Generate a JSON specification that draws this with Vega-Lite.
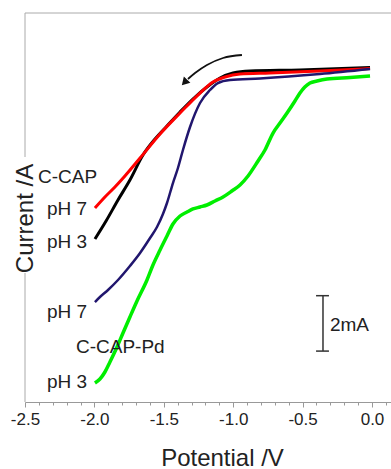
{
  "$schema": "https://vega.github.io/schema/vega-lite/v6.json",
  "width": 366,
  "height": 389,
  "autosize": "none",
  "padding": {"left": 25, "top": 13, "right": 0, "bottom": 67},
  "background": "white",
  "config": {
    "view": {"stroke": null},
    "font": "Liberation Sans",
    "axis": {"grid": false}
  },
  "resolve": {"axis": {"x": "independent", "y": "independent"}},
  "datasets": {
    "curves": [
      {"s": "C-CAP pH 3", "v": -1.996, "c": -6.173},
      {"s": "C-CAP pH 3", "v": -1.916, "c": -5.523},
      {"s": "C-CAP pH 3", "v": -1.830, "c": -4.765},
      {"s": "C-CAP pH 3", "v": -1.744, "c": -4.043},
      {"s": "C-CAP pH 3", "v": -1.650, "c": -3.141},
      {"s": "C-CAP pH 3", "v": -1.563, "c": -2.563},
      {"s": "C-CAP pH 3", "v": -1.477, "c": -2.094},
      {"s": "C-CAP pH 3", "v": -1.383, "c": -1.588},
      {"s": "C-CAP pH 3", "v": -1.290, "c": -1.119},
      {"s": "C-CAP pH 3", "v": -1.189, "c": -0.686},
      {"s": "C-CAP pH 3", "v": -1.095, "c": -0.361},
      {"s": "C-CAP pH 3", "v": -1.001, "c": -0.181},
      {"s": "C-CAP pH 3", "v": -0.879, "c": -0.108},
      {"s": "C-CAP pH 3", "v": -0.519, "c": -0.072},
      {"s": "C-CAP pH 3", "v": -0.014, "c": 0.018},
      {"s": "C-CAP pH 7", "v": -1.996, "c": -5.054},
      {"s": "C-CAP pH 7", "v": -1.924, "c": -4.657},
      {"s": "C-CAP pH 7", "v": -1.852, "c": -4.296},
      {"s": "C-CAP pH 7", "v": -1.780, "c": -3.899},
      {"s": "C-CAP pH 7", "v": -1.671, "c": -3.249},
      {"s": "C-CAP pH 7", "v": -1.527, "c": -2.383},
      {"s": "C-CAP pH 7", "v": -1.383, "c": -1.625},
      {"s": "C-CAP pH 7", "v": -1.239, "c": -0.903},
      {"s": "C-CAP pH 7", "v": -1.146, "c": -0.505},
      {"s": "C-CAP pH 7", "v": -1.059, "c": -0.325},
      {"s": "C-CAP pH 7", "v": -0.951, "c": -0.217},
      {"s": "C-CAP pH 7", "v": -0.735, "c": -0.181},
      {"s": "C-CAP pH 7", "v": -0.375, "c": -0.108},
      {"s": "C-CAP pH 7", "v": -0.014, "c": -0.018},
      {"s": "C-CAP-Pd pH 7", "v": -1.996, "c": -8.448},
      {"s": "C-CAP-Pd pH 7", "v": -1.960, "c": -8.267},
      {"s": "C-CAP-Pd pH 7", "v": -1.902, "c": -8.014},
      {"s": "C-CAP-Pd pH 7", "v": -1.830, "c": -7.653},
      {"s": "C-CAP-Pd pH 7", "v": -1.744, "c": -7.148},
      {"s": "C-CAP-Pd pH 7", "v": -1.671, "c": -6.679},
      {"s": "C-CAP-Pd pH 7", "v": -1.599, "c": -6.137},
      {"s": "C-CAP-Pd pH 7", "v": -1.549, "c": -5.740},
      {"s": "C-CAP-Pd pH 7", "v": -1.506, "c": -5.271},
      {"s": "C-CAP-Pd pH 7", "v": -1.477, "c": -4.874},
      {"s": "C-CAP-Pd pH 7", "v": -1.434, "c": -4.152},
      {"s": "C-CAP-Pd pH 7", "v": -1.398, "c": -3.610},
      {"s": "C-CAP-Pd pH 7", "v": -1.362, "c": -2.960},
      {"s": "C-CAP-Pd pH 7", "v": -1.311, "c": -2.130},
      {"s": "C-CAP-Pd pH 7", "v": -1.239, "c": -1.264},
      {"s": "C-CAP-Pd pH 7", "v": -1.167, "c": -0.794},
      {"s": "C-CAP-Pd pH 7", "v": -1.110, "c": -0.542},
      {"s": "C-CAP-Pd pH 7", "v": -1.023, "c": -0.433},
      {"s": "C-CAP-Pd pH 7", "v": -0.807, "c": -0.379},
      {"s": "C-CAP-Pd pH 7", "v": -0.375, "c": -0.217},
      {"s": "C-CAP-Pd pH 7", "v": -0.014, "c": -0.036},
      {"s": "C-CAP-Pd pH 3", "v": -1.996, "c": -11.372},
      {"s": "C-CAP-Pd pH 3", "v": -1.960, "c": -11.227},
      {"s": "C-CAP-Pd pH 3", "v": -1.924, "c": -10.975},
      {"s": "C-CAP-Pd pH 3", "v": -1.888, "c": -10.614},
      {"s": "C-CAP-Pd pH 3", "v": -1.837, "c": -10.072},
      {"s": "C-CAP-Pd pH 3", "v": -1.794, "c": -9.567},
      {"s": "C-CAP-Pd pH 3", "v": -1.744, "c": -8.989},
      {"s": "C-CAP-Pd pH 3", "v": -1.693, "c": -8.412},
      {"s": "C-CAP-Pd pH 3", "v": -1.621, "c": -7.653},
      {"s": "C-CAP-Pd pH 3", "v": -1.578, "c": -7.112},
      {"s": "C-CAP-Pd pH 3", "v": -1.527, "c": -6.570},
      {"s": "C-CAP-Pd pH 3", "v": -1.477, "c": -6.065},
      {"s": "C-CAP-Pd pH 3", "v": -1.434, "c": -5.632},
      {"s": "C-CAP-Pd pH 3", "v": -1.383, "c": -5.343},
      {"s": "C-CAP-Pd pH 3", "v": -1.333, "c": -5.199},
      {"s": "C-CAP-Pd pH 3", "v": -1.290, "c": -5.090},
      {"s": "C-CAP-Pd pH 3", "v": -1.239, "c": -5.018},
      {"s": "C-CAP-Pd pH 3", "v": -1.189, "c": -4.946},
      {"s": "C-CAP-Pd pH 3", "v": -1.131, "c": -4.801},
      {"s": "C-CAP-Pd pH 3", "v": -1.073, "c": -4.657},
      {"s": "C-CAP-Pd pH 3", "v": -1.009, "c": -4.440},
      {"s": "C-CAP-Pd pH 3", "v": -0.951, "c": -4.224},
      {"s": "C-CAP-Pd pH 3", "v": -0.893, "c": -3.899},
      {"s": "C-CAP-Pd pH 3", "v": -0.821, "c": -3.357},
      {"s": "C-CAP-Pd pH 3", "v": -0.771, "c": -2.960},
      {"s": "C-CAP-Pd pH 3", "v": -0.713, "c": -2.347},
      {"s": "C-CAP-Pd pH 3", "v": -0.663, "c": -1.986},
      {"s": "C-CAP-Pd pH 3", "v": -0.612, "c": -1.625},
      {"s": "C-CAP-Pd pH 3", "v": -0.555, "c": -1.191},
      {"s": "C-CAP-Pd pH 3", "v": -0.519, "c": -0.903},
      {"s": "C-CAP-Pd pH 3", "v": -0.484, "c": -0.686},
      {"s": "C-CAP-Pd pH 3", "v": -0.447, "c": -0.542},
      {"s": "C-CAP-Pd pH 3", "v": -0.396, "c": -0.469},
      {"s": "C-CAP-Pd pH 3", "v": -0.324, "c": -0.397},
      {"s": "C-CAP-Pd pH 3", "v": -0.158, "c": -0.343},
      {"s": "C-CAP-Pd pH 3", "v": -0.014, "c": -0.289}
    ],
    "labels": [
      {"text": "C-CAP", "v": -2.406, "c": -4.152},
      {"text": "pH 7", "v": -2.342, "c": -5.307},
      {"text": "pH 3", "v": -2.342, "c": -6.498},
      {"text": "pH 7", "v": -2.342, "c": -9.025},
      {"text": "C-CAP-Pd", "v": -2.133, "c": -10.289},
      {"text": "pH 3", "v": -2.342, "c": -11.552},
      {"text": "2mA", "v": -0.303, "c": -9.495}
    ],
    "arrow": [
      {"v": -0.937, "c": 0.469},
      {"v": -1.073, "c": 0.361},
      {"v": -1.189, "c": 0.108},
      {"v": -1.275, "c": -0.181},
      {"v": -1.326, "c": -0.397}
    ],
    "arrowhead": [{"v": -1.351, "c": -0.523}],
    "barV": [{"v": -0.353, "c": -8.22, "c2": -10.22}],
    "barCaps": [
      {"v": -0.403, "v2": -0.310, "c": -8.22},
      {"v": -0.403, "v2": -0.310, "c": -10.22}
    ],
    "leftAxis": [
      {"v": -2.5, "c": 1.986, "c2": -3.213},
      {"v": -2.5, "c": -7.401, "c2": -12.058}
    ],
    "minorTicks": [
      {"v": -2.5, "c": -12.058}
    ]
  },
  "layer": [
    {
      "data": {"name": "leftAxis"},
      "mark": {"type": "rule", "color": "#aaaaaa", "strokeWidth": 1},
      "encoding": {
        "x": {
          "field": "v", "type": "quantitative",
          "scale": {"domain": [-2.5, 0.137], "nice": false, "zero": false},
          "axis": {
            "orient": "bottom",
            "title": "Potential /V",
            "titleFont": "Liberation Sans",
            "titleFontSize": 24,
            "titleFontWeight": "normal",
            "titleColor": "#222222",
            "titleX": 197,
            "titleY": 63,
            "titleAlign": "center",
            "titleBaseline": "alphabetic",
            "values": [-2.5, -2.0, -1.5, -1.0, -0.5, 0.0],
            "format": ".1f",
            "labelExpr": "replace(datum.label, '\u2212', '-')",
            "labelFont": "Liberation Sans",
            "labelFontSize": 17,
            "labelColor": "#222222",
            "labelPadding": 4,
            "labelFlush": false,
            "labelOverlap": false,
            "domainColor": "#999999",
            "domainWidth": 1,
            "tickColor": "#999999",
            "tickSize": 5
          }
        },
        "y": {
          "field": "c", "type": "quantitative",
          "scale": {"domain": [-12.058, 1.986], "nice": false, "zero": false},
          "axis": {
            "orient": "left",
            "title": "Current /A",
            "titleFont": "Liberation Sans",
            "titleFontSize": 24,
            "titleFontWeight": "normal",
            "titleColor": "#222222",
            "titleAngle": -90,
            "titleX": 7,
            "titleY": 205,
            "titleAlign": "center",
            "titleBaseline": "alphabetic",
            "domain": false,
            "ticks": false,
            "labels": false
          }
        },
        "y2": {"field": "c2"}
      }
    },
    {
      "data": {"name": "minorTicks"},
      "mark": {"type": "point", "opacity": 0},
      "encoding": {
        "x": {
          "field": "v", "type": "quantitative",
          "axis": {
            "orient": "bottom",
            "title": null,
            "values": [-2.4,-2.3,-2.2,-2.1,-1.9,-1.8,-1.7,-1.6,-1.4,-1.3,-1.2,-1.1,-0.9,-0.8,-0.7,-0.6,-0.4,-0.3,-0.2,-0.1,0.1],
            "labels": false,
            "domain": false,
            "tickColor": "#999999",
            "tickSize": 3
          }
        },
        "y": {"field": "c", "type": "quantitative", "axis": null}
      }
    },
    {
      "data": {"values": [{}]},
      "mark": {"type": "rule", "color": "#aaaaaa", "strokeWidth": 1},
      "encoding": {"y": {"datum": 1.986, "type": "quantitative", "axis": null}}
    },
    {
      "data": {"name": "curves"},
      "transform": [{"filter": "datum.s === 'C-CAP pH 3'"}],
      "mark": {"type": "line", "color": "#000000", "strokeWidth": 3, "interpolate": "monotone"},
      "encoding": {"x": {"field": "v", "type": "quantitative", "axis": null}, "y": {"field": "c", "type": "quantitative", "axis": null}}
    },
    {
      "data": {"name": "curves"},
      "transform": [{"filter": "datum.s === 'C-CAP pH 7'"}],
      "mark": {"type": "line", "color": "#ff0000", "strokeWidth": 3, "interpolate": "monotone"},
      "encoding": {"x": {"field": "v", "type": "quantitative", "axis": null}, "y": {"field": "c", "type": "quantitative", "axis": null}}
    },
    {
      "data": {"name": "curves"},
      "transform": [{"filter": "datum.s === 'C-CAP-Pd pH 7'"}],
      "mark": {"type": "line", "color": "#21166e", "strokeWidth": 2.5, "interpolate": "monotone"},
      "encoding": {"x": {"field": "v", "type": "quantitative", "axis": null}, "y": {"field": "c", "type": "quantitative", "axis": null}}
    },
    {
      "data": {"name": "curves"},
      "transform": [{"filter": "datum.s === 'C-CAP-Pd pH 3'"}],
      "mark": {"type": "line", "color": "#00ee00", "strokeWidth": 3.5, "interpolate": "monotone"},
      "encoding": {"x": {"field": "v", "type": "quantitative", "axis": null}, "y": {"field": "c", "type": "quantitative", "axis": null}}
    },
    {
      "data": {"name": "labels"},
      "mark": {"type": "text", "align": "left", "baseline": "alphabetic", "font": "Liberation Sans", "fontSize": 19, "color": "#222222"},
      "encoding": {"x": {"field": "v", "type": "quantitative", "axis": null}, "y": {"field": "c", "type": "quantitative", "axis": null}, "text": {"field": "text"}}
    },
    {
      "data": {"name": "arrow"},
      "mark": {"type": "line", "color": "#111111", "strokeWidth": 1.8, "interpolate": "monotone"},
      "encoding": {"x": {"field": "v", "type": "quantitative", "axis": null}, "y": {"field": "c", "type": "quantitative", "axis": null}}
    },
    {
      "data": {"name": "arrowhead"},
      "mark": {"type": "point", "shape": "triangle-up", "filled": true, "color": "#111111", "opacity": 1, "size": 80, "angle": 223},
      "encoding": {"x": {"field": "v", "type": "quantitative", "axis": null}, "y": {"field": "c", "type": "quantitative", "axis": null}}
    },
    {
      "data": {"name": "barV"},
      "mark": {"type": "rule", "color": "#333333", "strokeWidth": 1.5},
      "encoding": {"x": {"field": "v", "type": "quantitative", "axis": null}, "y": {"field": "c", "type": "quantitative", "axis": null}, "y2": {"field": "c2"}}
    },
    {
      "data": {"name": "barCaps"},
      "mark": {"type": "rule", "color": "#333333", "strokeWidth": 1.5},
      "encoding": {"x": {"field": "v", "type": "quantitative", "axis": null}, "x2": {"field": "v2"}, "y": {"field": "c", "type": "quantitative", "axis": null}}
    }
  ]
}
